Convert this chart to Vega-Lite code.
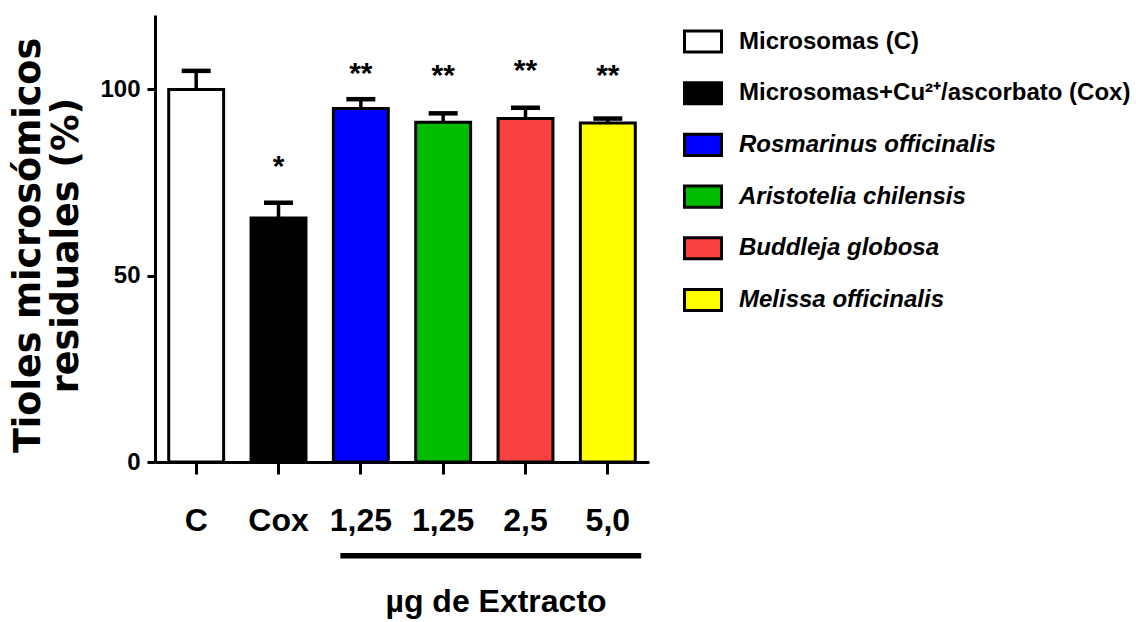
{
  "$schema": "https://vega.github.io/schema/vega-lite/v6.json",
  "width": 494,
  "height": 447,
  "autosize": "none",
  "padding": {"left": 155, "top": 15, "right": 487, "bottom": 160},
  "background": "white",
  "config": {
    "view": {"stroke": null},
    "axis": {
      "domainColor": "black",
      "domainWidth": 3,
      "tickColor": "black",
      "tickWidth": 3,
      "labelColor": "black",
      "titleColor": "black",
      "grid": false
    }
  },
  "datasets": {
    "grupos": [
      {"grupo": "C", "serie": "Microsomas (C)", "media": 100, "sup": 105},
      {"grupo": "Cox", "serie": "Microsomas+Cu²⁺/ascorbato (Cox)", "media": 65.5, "sup": 69.6},
      {"grupo": "R", "serie": "Rosmarinus officinalis", "media": 94.9, "sup": 97.4},
      {"grupo": "A", "serie": "Aristotelia chilensis", "media": 91.2, "sup": 93.6},
      {"grupo": "B", "serie": "Buddleja globosa", "media": 92.2, "sup": 95.1},
      {"grupo": "M", "serie": "Melissa officinalis", "media": 91.0, "sup": 92.2}
    ],
    "significancia": [
      {"grupo": "Cox", "marca": "*", "y": 81.2},
      {"grupo": "R", "marca": "**", "y": 106.2},
      {"grupo": "A", "marca": "**", "y": 105.6},
      {"grupo": "B", "marca": "**", "y": 107.0},
      {"grupo": "M", "marca": "**", "y": 105.6}
    ],
    "extracto": [
      {"desde": "R", "hasta": "M", "centro": "B", "texto": "µg de Extracto"}
    ]
  },
  "encoding": {
    "x": {
      "field": "grupo",
      "type": "nominal",
      "sort": ["C", "Cox", "R", "A", "B", "M"],
      "scale": {"domain": ["C", "Cox", "R", "A", "B", "M"], "paddingInner": 0.333, "paddingOuter": 0.1667},
      "axis": {
        "title": null,
        "labelAngle": 0,
        "tickSize": 12,
        "labelPadding": 31,
        "labelFont": "Liberation Sans",
        "labelFontWeight": "bold",
        "labelFontSize": 32,
        "labelExpr": "{'C': 'C', 'Cox': 'Cox', 'R': '1,25', 'A': '1,25', 'B': '2,5', 'M': '5,0'}[datum.value]"
      }
    }
  },
  "layer": [
    {
      "data": {"name": "grupos"},
      "mark": {"type": "rule", "color": "black", "strokeWidth": 3.5},
      "encoding": {
        "y": {"field": "media", "type": "quantitative"},
        "y2": {"field": "sup"}
      }
    },
    {
      "data": {"name": "grupos"},
      "mark": {"type": "tick", "color": "black", "thickness": 4.5, "size": 29, "opacity": 1},
      "encoding": {
        "y": {"field": "sup", "type": "quantitative"}
      }
    },
    {
      "data": {"name": "grupos"},
      "mark": {"type": "bar", "stroke": "black", "strokeWidth": 3, "opacity": 1},
      "encoding": {
        "y": {
          "field": "media",
          "type": "quantitative",
          "scale": {"domain": [0, 120], "nice": false},
          "axis": {
            "values": [0, 50, 100],
            "tickSize": 8,
            "labelPadding": 7,
            "labelFont": "Liberation Sans",
            "labelFontWeight": "bold",
            "labelFontSize": 24,
            "title": ["Tioles microsómicos", "residuales (%)"],
            "titleFont": "DejaVu Sans",
            "titleFontWeight": "bold",
            "titleFontSize": 36.5,
            "titleLineHeight": 38,
            "titleAngle": 270,
            "titleAlign": "center",
            "titleBaseline": "alphabetic",
            "titleX": -116,
            "titleY": 230
          }
        },
        "fill": {
          "field": "serie",
          "type": "nominal",
          "scale": {
            "domain": [
              "Microsomas (C)",
              "Microsomas+Cu²⁺/ascorbato (Cox)",
              "Rosmarinus officinalis",
              "Aristotelia chilensis",
              "Buddleja globosa",
              "Melissa officinalis"
            ],
            "range": ["#ffffff", "#000000", "#0000ff", "#00bb00", "#fa4040", "#ffff00"]
          },
          "legend": {
            "title": null,
            "orient": "none",
            "legendX": 528,
            "legendY": 6.5,
            "symbolType": "M-1,-0.57H1V0.57H-1Z",
            "symbolSize": 1369,
            "symbolStrokeColor": "black",
            "symbolStrokeWidth": 3,
            "symbolOpacity": 1,
            "rowPadding": 14.7,
            "labelOffset": 16,
            "labelFont": "Liberation Sans",
            "labelFontWeight": "bold",
            "labelFontSize": 24,
            "labelColor": "black",
            "labelLimit": 600,
            "encode": {
              "labels": {
                "update": {
                  "fontStyle": {"signal": "datum.label === 'Microsomas (C)' || indexof(datum.label, 'Cox') >= 0 ? 'normal' : 'italic'"}
                }
              }
            }
          }
        }
      }
    },
    {
      "data": {"name": "significancia"},
      "mark": {"type": "text", "font": "Liberation Sans", "fontWeight": "bold", "fontSize": 30, "color": "black", "baseline": "alphabetic", "dy": 16.5},
      "encoding": {
        "y": {"field": "y", "type": "quantitative"},
        "text": {"field": "marca"}
      }
    },
    {
      "data": {"name": "extracto"},
      "mark": {"type": "rule", "color": "black", "strokeWidth": 5.5, "xOffset": 7, "x2Offset": 6},
      "encoding": {
        "x": {"field": "desde", "type": "nominal", "bandPosition": 0},
        "x2": {"field": "hasta", "bandPosition": 1},
        "y": {"datum": -25.2, "type": "quantitative"}
      }
    },
    {
      "data": {"name": "extracto"},
      "mark": {"type": "text", "font": "Liberation Sans", "fontWeight": "bold", "fontSize": 32, "color": "black", "baseline": "alphabetic", "align": "center", "dx": -2},
      "encoding": {
        "x": {"field": "centro", "type": "nominal", "bandPosition": 0},
        "y": {"datum": -40.2, "type": "quantitative"},
        "text": {"field": "texto"}
      }
    }
  ]
}
